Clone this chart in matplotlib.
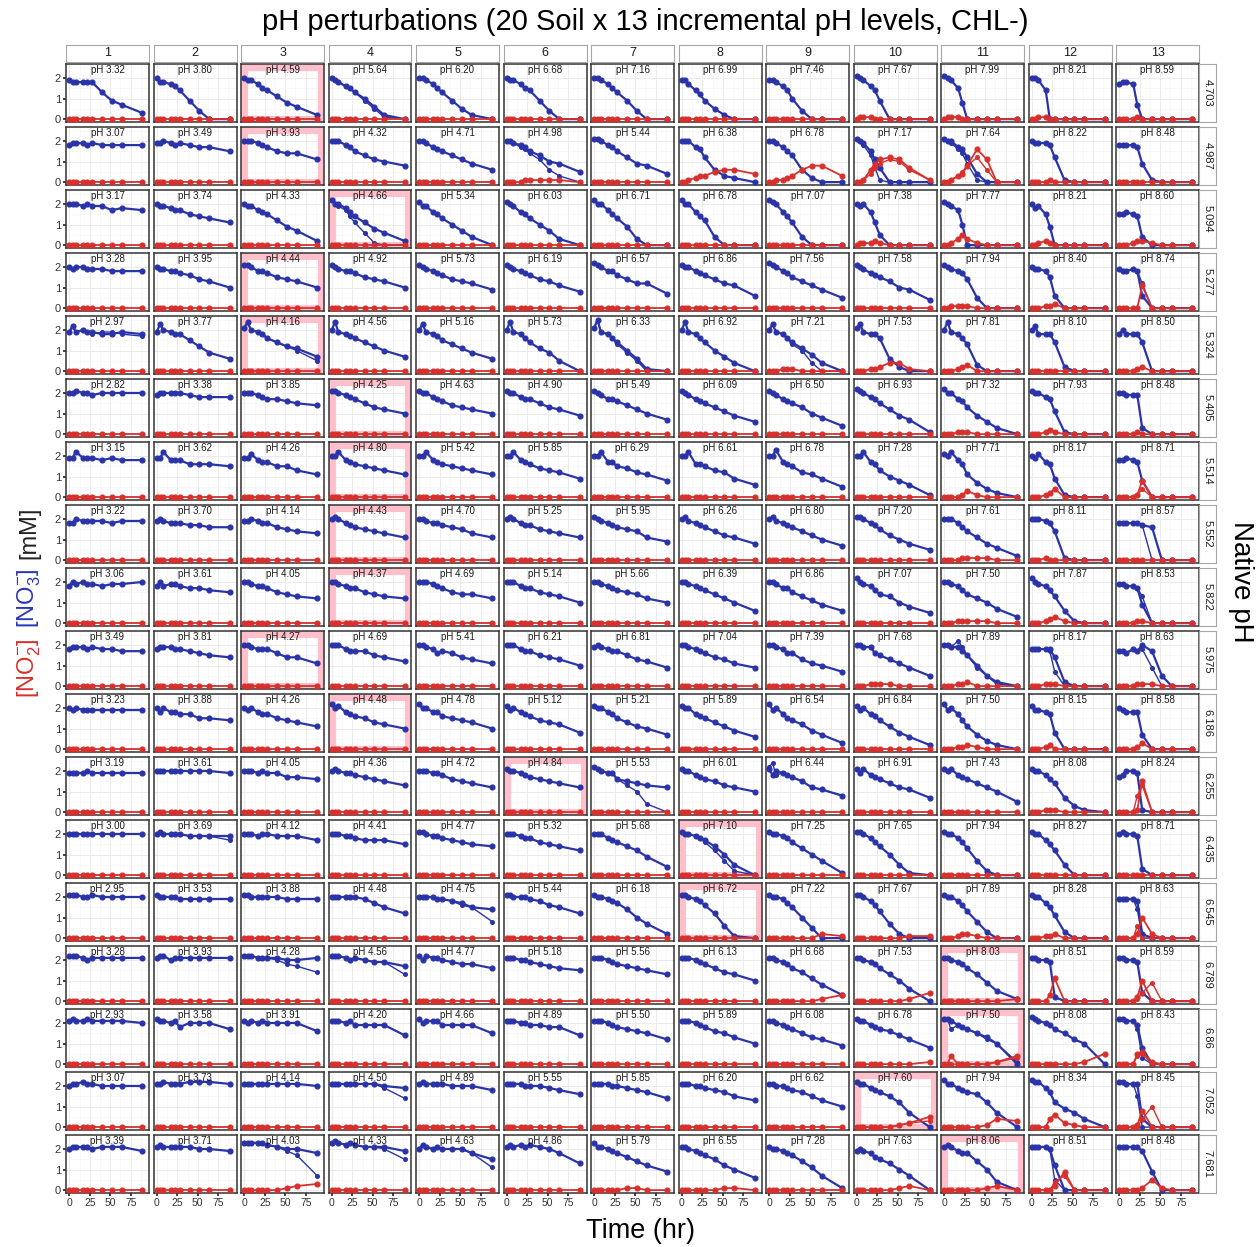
import numpy as np
import matplotlib
matplotlib.use('Agg')
import matplotlib.pyplot as plt
from matplotlib.patches import Rectangle

plt.rcParams['font.family'] = ['Liberation Sans', 'DejaVu Sans']
plt.rcParams['mathtext.fontset'] = 'custom'
plt.rcParams['mathtext.rm'] = 'Liberation Sans'
plt.rcParams['mathtext.it'] = 'Liberation Sans:italic'

# sampling times (hr)
hours = [0, 4, 8, 17, 22, 28, 40, 52, 64, 89]

native_ph = ['4.703', '4.987', '5.094', '5.277', '5.324', '5.405', '5.514', '5.552', '5.822',
             '5.975', '6.186', '6.255', '6.435', '6.545', '6.789', '6.86', '7.052', '7.681']
col_labels = [str(i) for i in range(1, 14)]

panel_ph = [
    ['3.32', '3.80', '4.59', '5.64', '6.20', '6.68', '7.16', '6.99', '7.46', '7.67', '7.99', '8.21', '8.59'],
    ['3.07', '3.49', '3.93', '4.32', '4.71', '4.98', '5.44', '6.38', '6.78', '7.17', '7.64', '8.22', '8.48'],
    ['3.17', '3.74', '4.33', '4.66', '5.34', '6.03', '6.71', '6.78', '7.07', '7.38', '7.77', '8.21', '8.60'],
    ['3.28', '3.95', '4.44', '4.92', '5.73', '6.19', '6.57', '6.86', '7.56', '7.58', '7.94', '8.40', '8.74'],
    ['2.97', '3.77', '4.16', '4.56', '5.16', '5.73', '6.33', '6.92', '7.21', '7.53', '7.81', '8.10', '8.50'],
    ['2.82', '3.38', '3.85', '4.25', '4.63', '4.90', '5.49', '6.09', '6.50', '6.93', '7.32', '7.93', '8.48'],
    ['3.15', '3.62', '4.26', '4.80', '5.42', '5.85', '6.29', '6.61', '6.78', '7.28', '7.71', '8.17', '8.71'],
    ['3.22', '3.70', '4.14', '4.43', '4.70', '5.25', '5.95', '6.26', '6.80', '7.20', '7.61', '8.11', '8.57'],
    ['3.06', '3.61', '4.05', '4.37', '4.69', '5.14', '5.66', '6.39', '6.86', '7.07', '7.50', '7.87', '8.53'],
    ['3.49', '3.81', '4.27', '4.69', '5.41', '6.21', '6.81', '7.04', '7.39', '7.68', '7.89', '8.17', '8.63'],
    ['3.23', '3.88', '4.26', '4.48', '4.78', '5.12', '5.21', '5.89', '6.54', '6.84', '7.50', '8.15', '8.58'],
    ['3.19', '3.61', '4.05', '4.36', '4.72', '4.84', '5.53', '6.01', '6.44', '6.91', '7.43', '8.08', '8.24'],
    ['3.00', '3.69', '4.12', '4.41', '4.77', '5.32', '5.68', '7.10', '7.25', '7.65', '7.94', '8.27', '8.71'],
    ['2.95', '3.53', '3.88', '4.48', '4.75', '5.44', '6.18', '6.72', '7.22', '7.67', '7.89', '8.28', '8.63'],
    ['3.28', '3.93', '4.28', '4.56', '4.77', '5.18', '5.56', '6.13', '6.68', '7.53', '8.03', '8.51', '8.59'],
    ['2.93', '3.58', '3.91', '4.20', '4.66', '4.89', '5.50', '5.89', '6.08', '6.78', '7.50', '8.08', '8.43'],
    ['3.07', '3.73', '4.14', '4.50', '4.89', '5.55', '5.85', '6.20', '6.62', '7.60', '7.94', '8.34', '8.45'],
    ['3.39', '3.71', '4.03', '4.33', '4.63', '4.86', '5.79', '6.55', '7.28', '7.63', '8.06', '8.51', '8.48'],
]

# column (1-based) of the native-pH panel in each row
native_col = [3, 3, 4, 3, 3, 4, 4, 4, 4, 3, 4, 6, 8, 8, 11, 11, 10, 11]

# [NO3-] in tenths of mM, one string per panel, values at `hours`
no3 = [
    ["19 18 18 18 18 18 13 9 7 3", "20 18 18 17 16 14 9 4 0 0", "20 19 19 17 15 14 11 8 6 2",
     "20 19 18 16 15 13 10 6 2 0", "20 20 19 17 15 13 9 5 2 0", "20 19 19 17 15 14 9 4 0 0",
     "20 20 19 17 15 13 9 4 0 0", "19 19 17 14 12 9 5 2 0 0", "19 19 18 16 14 10 4 0 0 0",
     "21 20 19 16 14 9 0 0 0 0", "21 20 19 15 8 0 0 0 0 0", "20 20 19 14 0 0 0 0 0 0",
     "17 18 18 17 7 0 0 0 0 0"],
    ["18 19 19 19 18 19 18 18 18 18", "19 19 20 19 18 19 18 17 17 15", "20 20 20 19 18 17 15 14 14 11",
     "20 20 20 18 17 15 13 11 10 8", "20 20 19 17 16 15 13 11 9 6", "20 20 19 18 17 15 13 10 9 5",
     "21 21 20 18 17 15 12 9 8 4", "20 20 20 17 16 12 6 3 2 0", "20 20 19 17 15 13 6 2 0 0",
     "21 20 19 15 11 7 0 0 0 0", "21 20 20 17 16 12 4 0 0 0", "20 19 19 19 18 12 1 0 0 0",
     "18 18 18 18 17 9 1 0 0 0"],
    ["20 20 20 19 20 19 19 17 18 17", "20 19 19 18 17 17 15 14 13 11", "20 19 19 17 16 15 12 9 7 2",
     "22 20 20 18 16 14 11 8 6 2", "21 19 19 16 15 13 10 7 4 0", "21 20 19 16 15 13 10 7 3 0",
     "22 20 20 17 15 13 9 3 0 0", "22 20 20 16 14 12 4 0 0 0", "22 21 20 16 14 11 4 0 0 0",
     "20 19 20 16 11 5 0 0 0 0", "21 20 19 17 10 0 0 0 0 0", "20 18 19 15 9 0 0 0 0 0",
     "15 15 16 15 14 4 0 0 0 0"],
    ["20 19 20 20 19 19 19 18 18 18", "20 19 19 18 18 17 16 14 13 10", "21 21 20 18 18 17 15 14 13 10",
     "21 20 19 18 18 17 15 14 13 10", "21 20 19 18 17 16 14 13 12 9", "21 20 19 18 17 16 14 13 11 8",
     "22 21 20 18 18 16 14 12 12 7", "21 20 20 18 17 16 14 12 11 6", "22 21 20 18 17 15 13 11 9 5",
     "21 20 19 17 16 15 13 10 9 4", "21 20 19 18 17 14 5 0 0 0", "20 19 19 18 15 6 0 0 0 0",
     "19 18 18 19 18 6 0 0 0 0"],
    ["19 22 19 20 19 19 18 18 19 18", "19 23 20 19 18 18 15 12 9 6", "21 24 20 19 18 16 14 12 11 7",
     "20 24 19 18 17 16 14 12 10 7", "20 23 19 18 17 15 13 11 9 6", "20 24 19 18 16 14 11 9 5 0",
     "21 25 19 18 16 14 10 6 1 0", "20 24 19 18 16 14 10 7 4 0", "20 23 19 18 16 14 11 8 4 0",
     "21 23 19 18 18 16 6 2 0 0", "20 24 19 18 16 13 3 0 0 0", "20 22 18 18 18 14 2 0 0 0",
     "18 20 18 18 18 14 0 0 0 0"],
    ["20 20 21 20 20 19 20 20 20 20", "19 20 20 20 20 20 19 18 18 18", "20 20 20 19 18 17 17 16 15 14",
     "21 21 20 19 18 17 15 13 12 10", "21 20 20 18 17 16 14 13 12 10", "21 20 20 18 17 17 15 13 12 9",
     "21 20 19 17 17 16 14 12 10 7", "21 20 19 17 16 15 13 11 9 6", "21 20 19 17 16 15 13 10 8 4",
     "22 21 20 18 17 15 12 9 7 1", "22 20 20 17 16 13 9 6 3 0", "21 20 20 18 17 11 1 0 0 0",
     "20 20 19 19 19 3 0 0 0 0"],
    ["19 19 22 19 19 19 18 19 18 18", "19 19 22 18 18 18 16 16 16 15", "19 19 21 18 17 17 15 15 13 11",
     "20 20 22 18 17 16 15 14 13 11", "20 20 22 18 17 16 15 14 13 11", "20 20 22 18 17 16 14 13 12 9",
     "20 20 22 17 17 15 14 12 11 8", "20 20 22 16 16 15 13 12 9 6", "20 20 23 17 16 15 12 11 9 5",
     "20 20 22 17 16 13 10 8 6 1", "21 20 22 18 16 11 7 4 2 0", "20 19 21 17 16 9 1 0 0 0",
     "18 18 19 18 17 8 0 0 0 0"],
    ["18 18 20 19 19 19 19 18 19 19", "19 20 19 18 18 18 17 17 16 16", "19 19 20 19 18 18 16 15 14 13",
     "20 21 20 18 17 16 15 14 13 11", "20 20 19 18 18 17 16 15 13 11", "20 21 20 18 17 17 15 14 13 11",
     "21 20 19 18 17 16 15 14 11 9", "20 21 19 18 17 16 14 12 11 8", "20 21 19 18 17 16 14 12 10 7",
     "21 21 20 18 17 15 12 10 8 5", "20 20 20 18 16 14 11 8 6 2", "20 20 20 19 18 14 1 0 0 0",
     "18 18 18 18 18 17 16 0 0 0"],
    ["18 20 19 20 19 19 18 19 19 20", "18 20 18 19 19 18 17 17 16 15", "20 20 19 18 18 17 15 14 13 12",
     "20 20 19 18 17 17 15 14 13 12", "20 20 20 19 18 17 15 14 14 12", "20 20 20 18 17 17 15 14 13 10",
     "20 20 19 18 17 16 15 14 12 10", "20 20 19 18 17 16 14 12 10 6", "20 20 19 17 17 15 13 11 9 6",
     "22 20 19 18 16 14 13 10 8 5", "20 20 19 18 16 14 12 10 7 3", "22 20 19 18 16 13 6 1 0 0",
     "19 19 18 18 17 9 0 0 0 0"],
    ["18 19 19 19 18 19 18 18 17 17", "18 19 19 19 18 18 17 16 15 14", "20 20 19 18 18 18 16 14 14 11",
     "20 20 20 18 17 17 17 15 14 12", "20 20 19 18 16 17 16 14 13 11", "20 20 20 18 17 17 15 14 13 10",
     "19 20 19 18 17 17 15 13 12 9", "20 20 19 18 17 16 14 13 11 9", "20 20 19 18 16 16 13 11 10 7",
     "20 20 19 19 16 15 13 11 9 5", "20 20 19 19 17 15 10 5 2 0", "18 18 18 18 18 14 2 0 0 0",
     "17 17 16 18 17 20 17 5 0 0"],
    ["20 19 20 19 19 19 19 19 19 19", "20 18 20 18 18 17 17 15 15 14", "20 19 20 18 17 17 15 14 13 11",
     "22 20 21 18 17 16 15 13 12 10", "22 20 20 18 18 16 15 14 13 10", "21 19 20 18 17 16 14 13 12 8",
     "21 20 20 18 17 15 13 11 10 7", "21 20 20 17 16 15 13 11 9 6", "22 19 20 17 15 14 12 9 7 3",
     "21 19 20 17 16 14 11 8 6 2", "22 19 20 17 14 11 7 4 2 0", "21 19 19 18 17 8 0 0 0 0",
     "20 19 18 18 18 7 0 0 0 0"],
    ["19 19 19 19 20 19 19 19 19 19", "20 20 20 20 20 20 20 20 20 19", "20 20 20 19 20 19 19 17 17 16",
     "20 21 20 19 19 18 17 16 15 13", "20 20 20 19 19 18 16 15 14 12", "21 20 20 19 18 17 16 15 14 12",
     "22 21 20 19 19 16 15 14 13 12", "21 20 20 18 17 16 15 13 12 10", "21 18 20 19 18 17 15 12 11 8",
     "21 19 21 18 17 16 14 12 11 7", "21 20 21 18 17 16 14 12 10 5", "21 20 20 18 16 14 7 3 1 0",
     "17 18 20 20 19 1 0 0 0 0"],
    ["20 20 20 20 20 20 20 20 20 20", "20 21 20 20 20 20 19 19 19 19", "20 20 20 19 20 20 19 19 19 17",
     "20 20 20 19 19 18 17 17 17 15", "21 21 20 19 19 18 17 16 15 14", "20 20 20 19 18 18 16 15 14 12",
     "20 20 20 18 17 16 14 12 9 4", "21 20 20 19 18 17 14 10 5 0", "21 20 20 19 18 16 13 10 7 1",
     "21 21 20 18 16 14 10 5 1 0", "21 20 20 18 16 13 7 2 0 0", "21 20 20 17 15 12 5 0 0 0",
     "20 21 20 20 19 3 0 0 0 0"],
    ["21 21 21 20 20 21 20 20 20 20", "21 20 20 20 20 19 19 19 19 19", "21 21 20 20 20 20 20 19 19 19",
     "20 20 20 20 20 20 19 17 15 12", "20 20 20 20 19 19 18 17 15 14", "21 21 20 20 20 19 18 16 15 12",
     "21 20 20 19 18 17 14 10 7 2", "21 21 20 19 18 16 12 6 1 0", "21 20 20 19 17 15 10 5 0 0",
     "21 21 20 18 16 13 7 2 0 0", "21 20 20 18 16 13 8 3 0 0", "21 20 20 17 15 11 3 0 0 0",
     "19 19 19 19 18 2 0 0 0 0"],
    ["22 22 22 21 20 21 21 21 21 21", "21 22 22 20 21 21 21 21 21 21", "22 22 22 21 21 21 21 20 20 21",
     "22 22 22 21 20 21 20 19 19 17", "22 20 22 21 21 20 19 18 18 16", "21 21 21 20 20 19 18 17 16 15",
     "21 21 21 20 19 18 17 16 15 13", "21 21 21 20 19 18 16 14 13 10", "21 21 20 19 18 16 14 11 8 3",
     "21 21 20 19 18 16 13 10 6 0", "21 21 20 19 18 16 13 9 5 1", "21 21 20 20 19 2 0 0 0 0",
     "21 21 20 20 19 4 0 0 0 0"],
    ["21 22 21 21 22 21 21 21 21 20", "22 21 21 20 21 18 20 20 20 17", "21 20 21 20 21 20 20 20 20 16",
     "21 21 21 20 21 19 19 19 19 14", "22 20 21 21 21 19 19 19 19 15", "21 21 21 20 20 19 19 18 18 14",
     "21 21 21 20 19 18 17 16 15 12", "21 21 21 20 19 18 16 15 13 10", "21 21 20 19 18 17 15 13 12 9",
     "22 21 21 19 18 17 16 14 12 8", "22 22 21 19 18 17 15 13 10 0", "23 22 21 20 19 17 15 12 10 0",
     "22 22 21 21 19 8 0 0 0 0"],
    ["20 21 21 22 21 21 20 20 20 20", "21 21 22 21 21 21 22 22 22 21", "21 21 21 21 21 21 21 21 21 20",
     "21 21 21 21 21 21 21 21 20 19", "21 22 21 21 21 21 20 20 20 18", "21 21 21 21 20 20 20 19 18 16",
     "21 21 21 21 20 20 19 18 17 14", "21 21 21 20 20 19 18 17 15 13", "21 21 20 20 19 18 17 15 13 10",
     "22 21 21 19 18 17 15 12 7 0", "23 21 21 19 18 17 16 12 7 0", "23 22 22 19 17 12 9 7 4 0",
     "22 22 21 21 21 4 0 0 0 0"],
    ["20 21 21 21 21 20 21 21 21 19", "21 22 21 21 21 21 21 20 20 19", "23 23 23 23 23 22 21 20 20 18",
     "23 24 23 22 23 22 21 21 21 19", "20 22 21 20 21 20 20 20 18 15", "21 22 21 22 21 22 21 20 18 13",
     "23 21 21 20 19 18 16 14 12 9", "21 21 20 19 18 17 15 12 10 6", "21 20 20 19 18 17 14 11 7 1",
     "19 20 19 18 16 15 13 10 7 0", "21 22 21 19 18 18 14 10 4 0", "21 21 21 21 20 12 0 0 0 0",
     "21 21 21 21 21 19 9 0 0 0"],
]

# replicates that split visibly from the main curve, keyed (row, col), 1-based
no3_alt = {
    (1, 4): "20 19 18 16 15 13 9 5 1 0", (2, 6): "20 20 19 17 16 14 11 6 3 0",
    (2, 10): "21 20 18 13 7 1 0 0 0 0", (2, 11): "21 20 19 16 14 9 1 0 0 0",
    (3, 4): "22 20 19 17 14 11 6 1 0 0", (4, 13): "19 18 18 19 18 12 0 0 0 0",
    (5, 1): "19 22 19 20 19 18 19 19 18 17", (5, 3): "21 24 20 19 18 16 14 12 10 5",
    (5, 7): "21 25 19 18 16 13 9 5 0 0", (5, 9): "20 23 19 18 16 13 10 4 0 0",
    (8, 13): "18 18 18 18 18 17 0 0 0 0", (9, 13): "19 19 18 18 17 13 0 0 0 0",
    (10, 11): "20 20 19 22 19 15 9 5 1 0", (10, 12): "18 18 18 18 17 7 0 0 0 0",
    (10, 13): "17 17 16 18 17 18 9 0 0 0", (12, 7): "22 21 20 19 19 16 13 10 4 0",
    (12, 9): "22 24 18 19 18 17 15 12 11 8", (13, 2): "20 21 20 20 20 20 19 19 19 17",
    (13, 8): "21 20 20 19 18 16 12 7 2 0", (14, 5): "20 20 20 20 19 19 18 16 15 8",
    (14, 13): "19 19 19 19 14 0 0 0 0 0", (15, 3): "22 22 22 21 21 21 20 18 17 14",
    (15, 4): "22 22 22 21 20 21 20 19 19 13", (16, 11): "22 22 17 19 18 17 15 12 10 1",
    (16, 13): "22 22 21 21 17 3 0 0 0 0", (17, 4): "21 21 21 21 21 21 21 21 19 14",
    (17, 13): "22 22 21 21 15 0 0 0 0 0", (18, 3): "23 23 23 23 23 22 21 19 17 7",
    (18, 4): "23 24 23 22 23 22 21 21 20 15", (18, 5): "20 22 21 20 21 20 20 20 18 11",
    (18, 12): "21 21 21 21 20 5 0 0 0 0",
}

# [NO2-] in tenths of mM; panels not listed stay at 0
no2 = {
    (1, 10): "0 1 1 1 0 0 0 0 0 0", (1, 11): "0 1 1 1 0 0 0 0 0 0", (1, 12): "0 0 1 1 0 0 0 0 0 0",
    (1, 13): "0 0 0 0 1 0 0 0 0 0",
    (2, 6): "0 0 0 0 1 1 1 1 1 0", (2, 8): "0 0 1 2 3 3 5 6 6 4", (2, 9): "0 0 1 1 2 3 6 8 8 3",
    (2, 10): "0 0 1 6 9 11 12 11 7 1", (2, 11): "0 0 1 3 4 8 16 11 0 0", (2, 12): "0 0 0 0 1 0 0 0 0 0",
    (3, 10): "0 1 1 1 2 1 0 0 0 0", (3, 11): "0 0 1 3 5 3 1 0 0 0", (3, 12): "0 0 1 2 1 0 0 0 0 0",
    (3, 13): "0 0 0 1 2 2 1 0 0 0",
    (4, 11): "0 0 1 1 1 1 0 0 0 0", (4, 12): "0 0 0 1 1 2 0 0 0 0", (4, 13): "0 0 0 0 0 11 0 0 0 0",
    (5, 9): "0 0 0 1 1 1 0 0 0 0", (5, 10): "0 0 0 1 1 2 4 4 1 0", (5, 11): "0 0 0 1 2 3 0 0 0 0",
    (5, 13): "0 0 0 0 1 2 0 0 0 0",
    (6, 11): "0 0 0 1 1 1 0 0 0 0", (6, 12): "0 0 0 1 2 1 0 0 0 0", (6, 13): "0 0 0 0 1 0 0 0 0 0",
    (7, 11): "0 0 0 0 1 3 1 0 0 0", (7, 12): "0 0 0 1 2 4 0 0 0 0", (7, 13): "0 0 0 0 1 8 0 0 0 0",
    (8, 11): "0 0 0 0 1 1 1 1 0 0", (8, 12): "0 0 0 1 0 0 0 0 0 0",
    (9, 11): "0 0 0 1 1 1 1 1 0 0", (9, 12): "0 0 0 1 2 3 1 0 0 0", (9, 13): "0 0 0 0 1 1 0 0 0 0",
    (10, 10): "0 0 0 1 1 1 1 0 0 0", (10, 11): "0 0 0 1 1 2 0 0 0 0", (10, 12): "0 0 0 1 1 1 0 0 0 0",
    (10, 13): "0 0 0 0 1 1 1 0 0 0",
    (11, 11): "0 0 0 1 1 2 1 0 0 0", (11, 12): "0 0 0 1 2 0 0 0 0 0", (11, 13): "0 0 0 0 1 3 0 0 0 0",
    (12, 12): "0 0 0 1 1 1 0 0 0 0", (12, 13): "0 0 0 0 1 15 0 0 0 0",
    (14, 9): "0 0 0 0 0 0 0 0 2 1", (14, 10): "0 0 0 0 0 0 0 0 1 1", (14, 11): "0 0 0 1 2 2 1 0 0 0",
    (14, 12): "0 0 0 1 1 2 0 0 0 0", (14, 13): "0 0 0 0 2 10 2 0 0 0",
    (15, 9): "0 0 0 0 0 0 0 0 1 3", (15, 10): "0 0 0 0 0 0 0 0 1 4", (15, 11): "0 0 0 0 0 0 0 0 0 1",
    (15, 12): "0 0 0 0 3 11 0 0 0 0", (15, 13): "0 0 0 0 2 10 0 0 0 0",
    (16, 10): "0 0 0 0 0 0 0 0 0 1", (16, 11): "0 0 4 0 0 0 0 0 1 4", (16, 12): "0 0 0 0 0 0 0 0 1 5",
    (16, 13): "0 0 0 0 5 6 1 0 0 0",
    (17, 10): "0 0 0 0 0 0 0 1 2 5", (17, 11): "0 0 0 0 0 0 0 1 4 3", (17, 12): "0 0 0 0 4 6 2 1 0 0",
    (17, 13): "0 0 0 0 1 8 0 0 0 0",
    (18, 3): "0 0 0 0 0 0 0 1 2 3", (18, 7): "0 0 0 0 0 0 1 1 0 0", (18, 8): "0 0 0 0 0 0 0 1 1 0",
    (18, 10): "0 0 0 0 0 0 0 1 2 0", (18, 11): "0 0 0 0 0 0 0 1 2 0", (18, 12): "0 0 0 0 0 2 9 0 0 0",
    (18, 13): "0 0 0 0 0 1 5 1 0 0",
}
no2_alt = {
    (2, 10): "0 0 1 4 7 9 11 10 6 1", (2, 11): "0 0 1 3 5 8 12 6 0 0",
    (7, 13): "0 0 0 0 1 4 0 0 0 0", (12, 13): "0 0 0 0 8 13 0 0 0 0",
    (14, 13): "0 0 0 0 6 0 0 0 0 0", (15, 13): "0 0 0 0 1 4 9 0 0 0",
    (16, 11): "0 0 0 0 0 0 0 0 1 3", (16, 13): "0 0 0 0 4 5 0 0 0 0",
    (17, 10): "0 0 0 0 0 0 0 1 2 3", (17, 13): "0 0 0 0 0 4 10 0 0 0",
    (18, 12): "0 0 0 0 0 4 7 0 0 0",
}

BLUE = '#2a33a8'
RED = '#d8302c'
PINK = '#ffc0cb'


def vals(s):
    return np.array(s.split(), float) / 10.0


W, H = 1257, 1247
fig = plt.figure(figsize=(W / 100, H / 100), dpi=100)


def box(left, top, w, h):
    return fig.add_axes([left / W, 1 - (top + h) / H, w / W, h / H])


nrow, ncol = len(native_ph), len(col_labels)
x0, y0, dx, dy, pw, ph = 66, 64, 87.5, 63, 83, 58

for r in range(nrow):
    for c in range(ncol):
        ax = box(x0 + c * dx, y0 + r * dy, pw, ph)
        ax.set_xlim(-4.0, 97.3)
        ax.set_ylim(-0.14, 2.68)
        ax.set_xticks([0, 25, 50, 75])
        ax.set_xticks([12.5, 37.5, 62.5, 87.5], minor=True)
        ax.set_yticks([0, 1, 2])
        ax.set_yticks([0.5, 1.5, 2.5], minor=True)
        ax.set_axisbelow(True)
        ax.grid(which='major', color='#ebebeb', lw=0.7)
        ax.grid(which='minor', color='#f4f4f4', lw=0.4)
        ax.tick_params(which='minor', length=0)
        for sp in ax.spines.values():
            sp.set_color('#333333')
            sp.set_linewidth(1.1)
        if c == 0:
            ax.tick_params(axis='y', length=2.5, width=1.3, color='#333333',
                           labelsize=8, labelcolor='#333333', pad=1)
        else:
            ax.tick_params(axis='y', length=0, labelleft=False)
        if r == nrow - 1:
            ax.tick_params(axis='x', length=2.5, width=1.3, color='#333333',
                           labelsize=7.5, labelcolor='#333333', pad=1)
        else:
            ax.tick_params(axis='x', length=0, labelbottom=False)

        key = (r + 1, c + 1)
        if native_col[r] == c + 1:
            ax.add_patch(Rectangle((0, 0), 1, 1, transform=ax.transAxes, fill=False,
                                   ec=PINK, lw=9.5, zorder=1))

        if key in no3_alt:
            ax.plot(hours, vals(no3_alt[key]), '-o', color=BLUE, lw=1.0, ms=2.6, zorder=3)
        ax.plot(hours, vals(no3[r][c]), '-o', color=BLUE, lw=1.6, ms=3.4, zorder=3)

        if key in no2_alt:
            ax.plot(hours, vals(no2_alt[key]), '-o', color=RED, lw=1.0, ms=2.6, zorder=4)
        red = vals(no2[key]) if key in no2 else np.zeros(len(hours))
        ax.plot(hours, red, '-o', color=RED, lw=1.3, ms=3.4, zorder=4)

        ax.text(0.5, 0.985, 'pH ' + panel_ph[r][c], transform=ax.transAxes,
                ha='center', va='top', fontsize=7, color='#1a1a1a', zorder=6)

# top strips
for c in range(ncol):
    s = box(x0 + c * dx, 45, pw, 17)
    s.set_xticks([])
    s.set_yticks([])
    for sp in s.spines.values():
        sp.set_color('#a6a6a6')
        sp.set_linewidth(0.8)
    s.text(0.5, 0.5, col_labels[c], ha='center', va='center', fontsize=9,
           color='#1a1a1a', transform=s.transAxes)

# right strips
for r in range(nrow):
    s = box(1199, y0 + r * dy, 17, ph)
    s.set_xticks([])
    s.set_yticks([])
    for sp in s.spines.values():
        sp.set_color('#a6a6a6')
        sp.set_linewidth(0.8)
    s.text(0.5, 0.5, native_ph[r], ha='center', va='center', rotation=-90,
           fontsize=8, color='#1a1a1a', transform=s.transAxes)

fig.text(645 / W, 1 - 22 / H, 'pH perturbations (20 Soil x 13 incremental pH levels, CHL-)',
         ha='center', va='center', fontsize=21)
fig.text(641 / W, 1 - 1231 / H, 'Time (hr)', ha='center', va='center', fontsize=19.5)
fig.text(1241 / W, 1 - 582 / H, 'Native pH', ha='center', va='center', rotation=-90, fontsize=20)

# multi-coloured y label, stacked bottom to top
pieces = [(r'[NO$_2^{-}$]', '#d8302c'), (r'[NO$_3^{-}$]', '#2a35b8'), ('[mM]', '#222222')]
ylab = [fig.text(0, 0, s, ha='center', va='bottom', rotation=90, fontsize=17, color=col)
        for s, col in pieces]
renderer = fig.canvas.get_renderer()
sizes = [t.get_window_extent(renderer).height for t in ylab]
gap = 10
ypos = (H - 602) - (sum(sizes) + gap * (len(sizes) - 1)) / 2
for t, sz in zip(ylab, sizes):
    t.set_position((29 / W, ypos / H))
    ypos += sz + gap

fig.savefig('out.png', dpi=100)
